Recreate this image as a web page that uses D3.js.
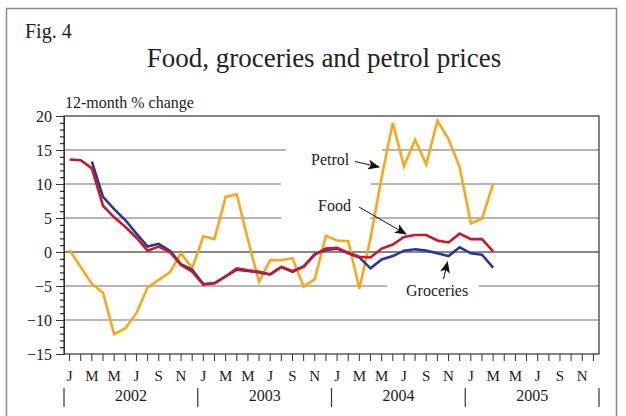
<!DOCTYPE html>
<html>
<head>
<meta charset="utf-8">
<script src="https://cdn.jsdelivr.net/npm/d3@7"></script>
<style>
  body { margin: 0; background: #fff; }
  svg text { font-family: "Liberation Serif", "Times New Roman", serif; fill: #222; }
</style>
</head>
<body>
<div id="chart"></div>
<script>
// chart values, Jan 2002 .. Mar 2005 (12-month % change)
var years = ["2002", "2003", "2004", "2005"];
var monthLetters = ["J", "F", "M", "A", "M", "J", "J", "A", "S", "O", "N", "D"];

var food = [13.6, 13.5, 12.3, 6.8, 5.1, 3.7, 2.1, 0.2, 0.8, 0.0, -1.9, -2.9,
  -4.8, -4.6, -3.6, -2.4, -2.7, -2.9, -3.3, -2.2, -2.8, -2.2, -0.4, 0.5,
  0.6, -0.1, -0.7, -0.8, 0.5, 1.1, 2.2, 2.5, 2.5, 1.7, 1.4, 2.7,
  1.9, 1.9, 0.1];

var groceries = [null, null, 13.3, 8.1, 6.3, 4.7, 2.7, 0.8, 1.2, 0.2, -1.8, -2.6,
  -4.7, -4.6, -3.6, -2.6, -2.8, -3.0, -3.3, -2.2, -2.9, -2.1, -0.3, 0.3,
  0.5, -0.2, -0.8, -2.4, -1.1, -0.6, 0.2, 0.4, 0.2, -0.2, -0.6, 0.7,
  -0.2, -0.4, -2.3];

var petrol = [0.3, -2.2, -4.7, -6.0, -12.1, -11.2, -9.0, -5.2, -4.1, -3.0, -0.2, -2.4,
  2.3, 1.9, 8.1, 8.5, 1.8, -4.4, -1.2, -1.2, -0.9, -5.1, -4.0, 2.4,
  1.7, 1.6, -5.4, 2.0, 11.0, 19.0, 12.6, 16.5, 12.9, 19.3, 16.6, 12.5,
  4.2, 4.9, 10.0];

var W = 626, H = 416;
var plot = {left: 64, right: 599, top: 116, bottom: 354};

var svg = d3.select("#chart").append("svg")
    .attr("width", W)
    .attr("height", H);

// outer frame
svg.append("rect")
    .attr("x", 6.5).attr("y", 8.5)
    .attr("width", 610).attr("height", 420)
    .attr("fill", "none")
    .attr("stroke", "#8a8a8a")
    .attr("stroke-width", 1.5);

svg.append("text")
    .attr("x", 25).attr("y", 38)
    .style("font-size", "20px")
    .text("Fig. 4");

svg.append("text")
    .attr("x", 324).attr("y", 67)
    .attr("text-anchor", "middle")
    .style("font-size", "27px")
    .text("Food, groceries and petrol prices");

svg.append("text")
    .attr("x", 65).attr("y", 108)
    .style("font-size", "16px")
    .text("12-month % change");

// scales
var x = d3.scaleBand()
    .domain(d3.range(48))
    .range([plot.left, plot.right]);
var cx = function(i) { return x(i) + x.bandwidth() / 2; };

var y = d3.scaleLinear()
    .domain([-15, 20])
    .range([plot.bottom, plot.top]);

// gridlines, broken where the labels sit
var gaps = {
  "15": [[286, 382]],
  "10": [[281, 371]],
  "5": [[281, 370]],
  "-5": [[387, 479]]
};
[15, 10, 5, -5, -10].forEach(function(v) {
  var segs = [], start = plot.left;
  (gaps[v] || []).forEach(function(g) { segs.push([start, g[0]]); start = g[1]; });
  segs.push([start, plot.right]);
  segs.forEach(function(s) {
    svg.append("line")
        .attr("x1", s[0]).attr("x2", s[1])
        .attr("y1", y(v)).attr("y2", y(v))
        .attr("stroke", "#6e6e6e")
        .attr("stroke-width", 1.2);
  });
});
svg.append("line")
    .attr("x1", plot.left).attr("x2", plot.right)
    .attr("y1", y(0)).attr("y2", y(0))
    .attr("stroke", "#111")
    .attr("stroke-width", 1.2);

// plot border
svg.append("rect")
    .attr("x", plot.left).attr("y", plot.top)
    .attr("width", plot.right - plot.left)
    .attr("height", plot.bottom - plot.top)
    .attr("fill", "none")
    .attr("stroke", "#333")
    .attr("stroke-width", 1.2);

// y axis: major ticks with labels, minor ticks every 1
var yMinor = d3.axisLeft(y).tickValues(d3.range(-15, 21, 1)).tickSize(4).tickFormat("");
svg.append("g")
    .attr("transform", "translate(" + plot.left + ",0)")
    .call(yMinor)
    .call(function(g) { g.select(".domain").remove(); });

var yMajor = d3.axisLeft(y).tickValues(d3.range(-15, 21, 5)).tickSize(8).tickPadding(4);
var yg = svg.append("g")
    .attr("transform", "translate(" + plot.left + ",0)")
    .call(yMajor);
yg.select(".domain").attr("stroke", "#333");
yg.selectAll("text")
    .style("font-size", "16px")
    .style("font-family", "Liberation Serif, serif")
    .attr("fill", "#222");
yg.selectAll("line, path").attr("stroke", "#333");

// x axis: month ticks
var xAxis = d3.axisBottom(x)
    .tickSize(7)
    .tickPadding(9)
    .tickFormat(function(i) { return i % 2 === 0 ? monthLetters[i % 12] : ""; });
var xg = svg.append("g")
    .attr("transform", "translate(0," + plot.bottom + ")")
    .call(xAxis);
xg.select(".domain").remove();
xg.selectAll("line").attr("stroke", "#333");
xg.selectAll("text")
    .style("font-size", "15px")
    .style("font-family", "Liberation Serif, serif")
    .attr("fill", "#222");

// year separators and labels
var yearEdge = function(k) { return k < 4 ? x(k * 12) : plot.right; };
d3.range(5).forEach(function(k) {
  svg.append("line")
      .attr("x1", yearEdge(k)).attr("x2", yearEdge(k))
      .attr("y1", 388).attr("y2", 407)
      .attr("stroke", "#333")
      .attr("stroke-width", 1.2);
});
svg.selectAll(".year")
    .data(years)
    .enter().append("text")
    .attr("class", "year")
    .attr("x", function(d, k) { return (yearEdge(k) + yearEdge(k + 1)) / 2; })
    .attr("y", 401)
    .attr("text-anchor", "middle")
    .style("font-size", "16px")
    .text(function(d) { return d; });

// series lines
var line = d3.line()
    .defined(function(d) { return d !== null; })
    .x(function(d, i) { return cx(i); })
    .y(function(d) { return y(d); });

[[petrol, "#f7a81b"], [groceries, "#27379a"], [food, "#c8182c"]].forEach(function(s) {
  svg.append("path")
      .datum(s[0])
      .attr("fill", "none")
      .attr("stroke", s[1])
      .attr("stroke-width", 2.6)
      .attr("stroke-linejoin", "miter")
      .attr("d", line);
});

// annotations with arrows
svg.append("defs").append("marker")
    .attr("id", "arrow")
    .attr("viewBox", "0 0 12 10")
    .attr("refX", 11).attr("refY", 5)
    .attr("markerWidth", 12).attr("markerHeight", 10)
    .attr("markerUnits", "userSpaceOnUse")
    .attr("orient", "auto")
    .append("path")
    .attr("d", "M0,0 L12,5 L0,10 L3,5 Z")
    .attr("fill", "#111");

var notes = [
  {text: "Petrol", tx: 311, ty: 165, from: [355, 161.5], to: [379, 167]},
  {text: "Food", tx: 318, ty: 211, from: [359, 207], to: [406, 234]},
  {text: "Groceries", tx: 406, ty: 296, from: [443.5, 279], to: [447.5, 262]}
];
notes.forEach(function(n) {
  svg.append("text")
      .attr("x", n.tx).attr("y", n.ty)
      .style("font-size", "16px")
      .text(n.text);
  svg.append("line")
      .attr("x1", n.from[0]).attr("y1", n.from[1])
      .attr("x2", n.to[0]).attr("y2", n.to[1])
      .attr("stroke", "#111")
      .attr("stroke-width", 1)
      .attr("marker-end", "url(#arrow)");
});
</script>
</body>
</html>
